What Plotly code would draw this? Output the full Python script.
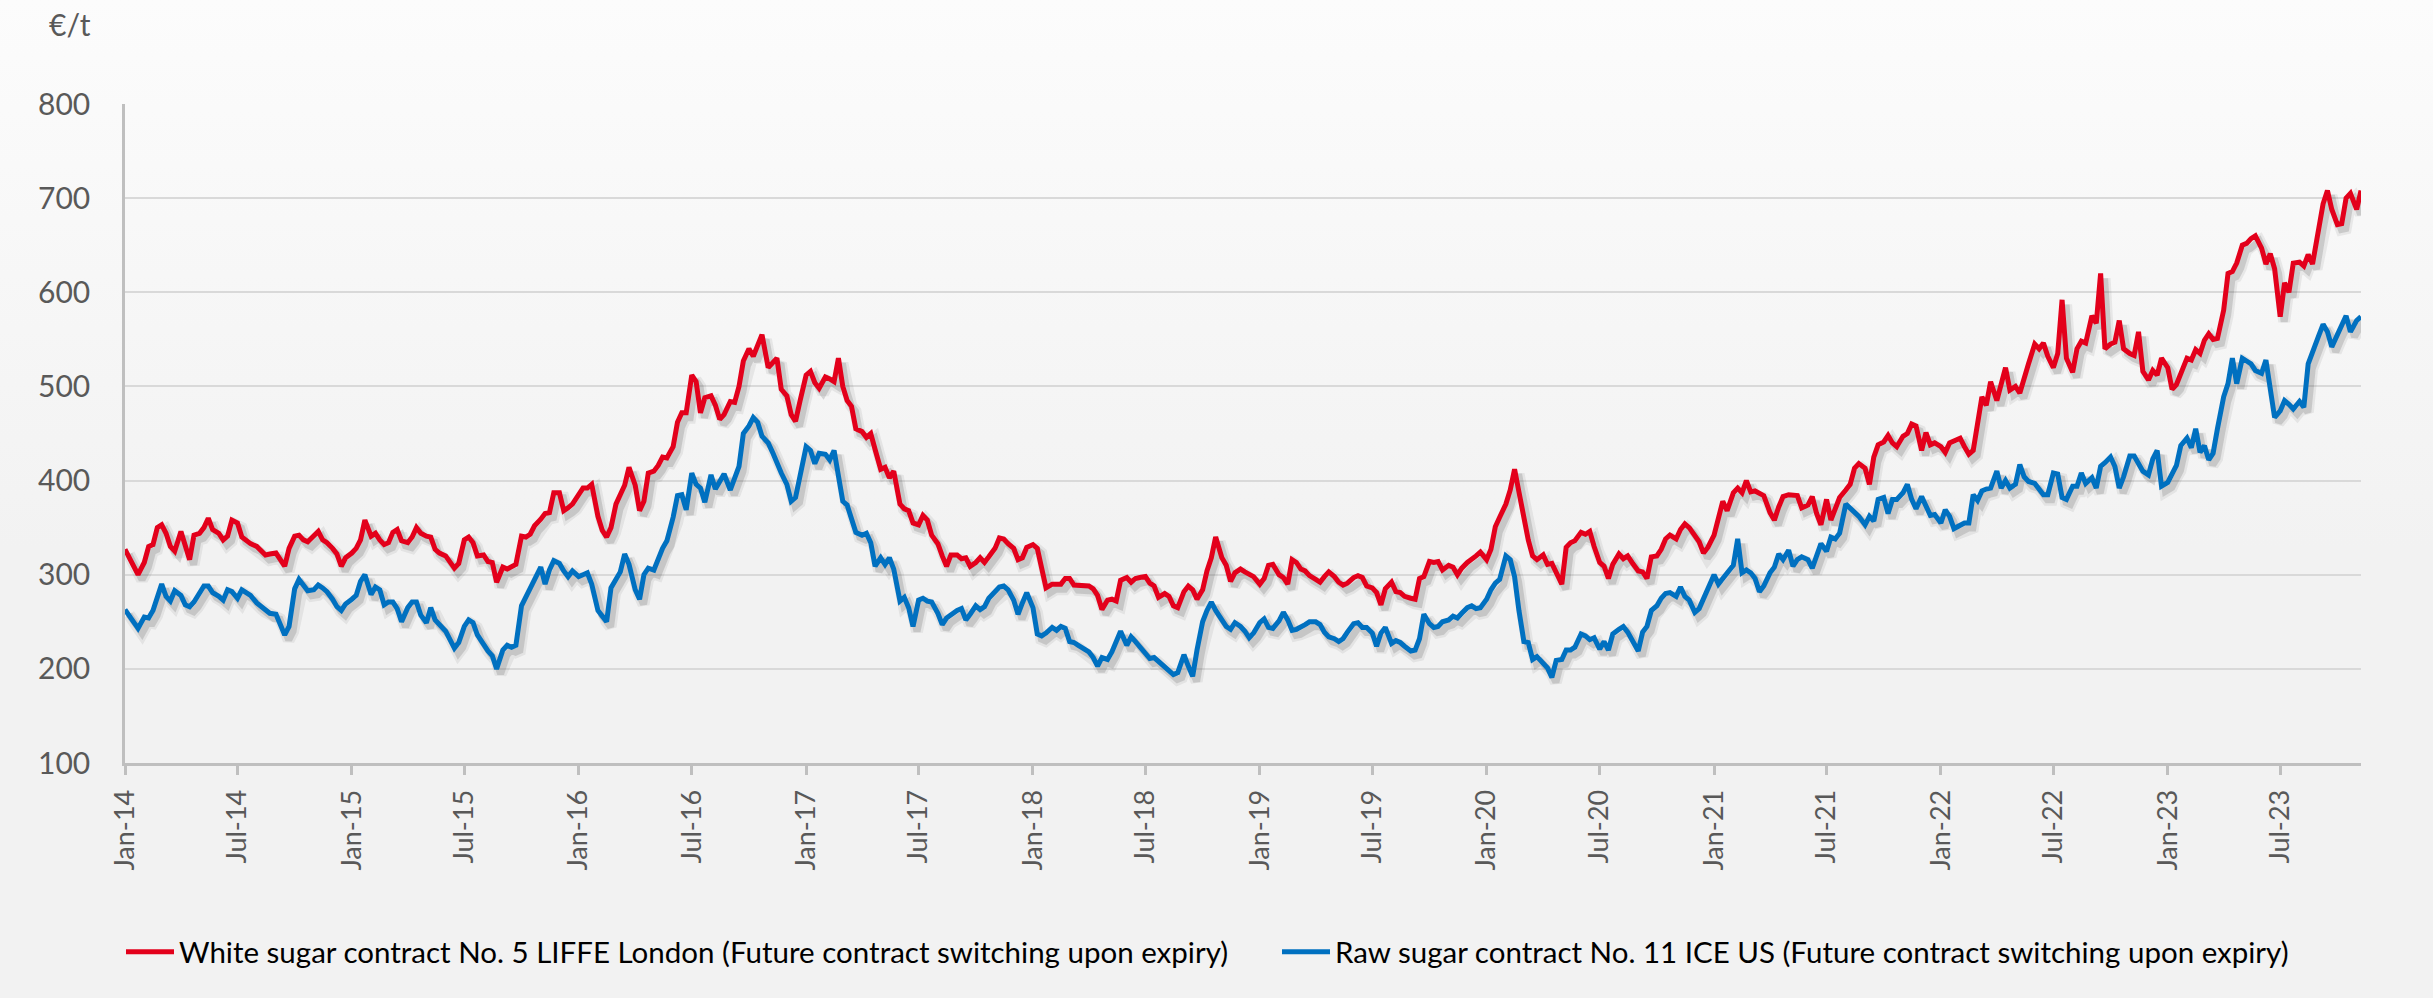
import base64
import pandas as pd
import plotly.graph_objects as go

# Quotes on the 1st, 8th, 15th and 22nd of every month, last one on 8 Nov 2023
months = pd.date_range("2014-01-01", "2023-10-01", freq="MS")
dates = [m + pd.Timedelta(days=d) for m in months for d in (0, 7, 14, 21)]
dates += [pd.Timestamp("2023-11-01"), pd.Timestamp("2023-11-08")]

# White sugar No. 5 LIFFE London, EUR per tonne (4 quotes per month)
white_sugar = [
    # 2014
    327, 318, 311, 300, 313, 330, 332, 350, 353, 344, 330, 325,
    346, 330, 316, 342, 344, 350, 360, 348, 344, 337, 341, 358,
    355, 340, 336, 333, 330, 325, 321, 322, 323, 316, 309, 328,
    341, 342, 337, 335, 341, 346, 337, 334, 328, 322, 309, 318,
    # 2015
    323, 328, 337, 358, 341, 344, 337, 332, 334, 345, 348, 336,
    334, 340, 350, 344, 341, 340, 327, 323, 320, 313, 307, 312,
    337, 340, 334, 320, 321, 314, 313, 292, 308, 306, 309, 311,
    341, 340, 343, 352, 359, 365, 366, 387, 387, 368, 371, 375,
    # 2016
    385, 392, 392, 396, 362, 347, 340, 350, 375, 386, 395, 414,
    395, 368, 378, 408, 410, 416, 425, 424, 436, 462, 472, 472,
    512, 505, 472, 488, 490, 480, 465, 470, 484, 483, 500, 527,
    540, 532, 542, 555, 520, 525, 530, 497, 490, 470, 463, 484,
    # 2017
    512, 516, 504, 498, 510, 508, 505, 530, 500, 485, 479, 455,
    452, 446, 450, 433, 412, 414, 403, 410, 375, 370, 368, 355,
    353, 363, 358, 342, 333, 320, 309, 321, 321, 317, 318, 309,
    313, 318, 313, 319, 328, 339, 338, 333, 328, 316, 318, 329,
    # 2018
    332, 328, 305, 286, 290, 290, 290, 296, 296, 289, 289, 288,
    288, 285, 278, 263, 273, 274, 272, 294, 297, 292, 296, 297,
    298, 291, 288, 276, 280, 277, 267, 265, 282, 288, 284, 274,
    284, 304, 318, 340, 318, 310, 293, 302, 306, 303, 300, 298,
    # 2019
    290, 296, 310, 311, 300, 297, 290, 316, 313, 306, 304, 299,
    295, 292, 298, 303, 298, 292, 289, 291, 297, 299, 297, 288,
    286, 281, 268, 285, 292, 282, 281, 277, 275, 274, 296, 298,
    314, 313, 314, 305, 310, 308, 300, 307, 313, 316, 320, 324,
    # 2020
    316, 327, 351, 361, 375, 390, 412, 388, 358, 337, 320, 316,
    321, 311, 312, 302, 290, 329, 334, 336, 345, 343, 346, 330,
    313, 309, 296, 311, 322, 317, 320, 313, 304, 303, 296, 319,
    320, 327, 338, 342, 338, 348, 354, 350, 341, 335, 323, 329,
    # 2021
    342, 360, 378, 368, 387, 392, 387, 400, 388, 389, 387, 384,
    366, 358, 372, 383, 385, 385, 384, 371, 374, 383, 365, 353,
    380, 358, 370, 382, 390, 396, 413, 418, 413, 396, 425, 438,
    441, 448, 440, 436, 447, 450, 460, 458, 432, 451, 438, 440,
    # 2022
    436, 430, 440, 442, 445, 436, 428, 432, 465, 489, 480, 505,
    485, 502, 520, 496, 500, 493, 510, 524, 545, 540, 546, 532,
    520, 535, 592, 530, 515, 540, 548, 546, 575, 567, 620, 540,
    545, 547, 570, 540, 535, 533, 558, 516, 507, 517, 512, 530,
    # 2023
    520, 497, 502, 515, 530, 528, 539, 535, 549, 556, 550, 551,
    581, 620, 622, 631, 650, 652, 657, 660, 647, 630, 641, 625,
    574, 610, 600, 631, 632, 628, 640, 630, 670, 694, 708, 688,
    672, 673, 700, 705, 688, 708,
]

# Raw sugar No. 11 ICE US, EUR per tonne (4 quotes per month)
raw_sugar = [
    # 2014
    263, 257, 250, 243, 255, 254, 262, 277, 290, 277, 272, 283,
    278, 268, 266, 271, 281, 288, 288, 281, 277, 273, 284, 282,
    275, 284, 281, 278, 270, 266, 263, 259, 258, 248, 236, 245,
    285, 295, 288, 283, 284, 289, 286, 282, 274, 266, 262, 269,
    # 2015
    274, 278, 293, 300, 279, 287, 284, 268, 271, 271, 264, 250,
    265, 271, 271, 257, 249, 265, 252, 247, 240, 231, 222, 228,
    245, 252, 249, 236, 225, 219, 214, 200, 220, 225, 223, 225,
    267, 276, 285, 295, 308, 290, 305, 315, 312, 304, 298, 304,
    # 2016
    298, 300, 302, 290, 262, 256, 250, 286, 295, 303, 322, 311,
    284, 274, 300, 307, 305, 318, 328, 336, 361, 384, 385, 369,
    408, 396, 392, 377, 406, 391, 400, 407, 390, 401, 415, 450,
    458, 467, 462, 447, 440, 430, 418, 408, 396, 378, 382, 407,
    # 2017
    436, 432, 418, 429, 428, 422, 432, 405, 378, 374, 357, 345,
    342, 344, 334, 309, 318, 311, 318, 306, 272, 276, 265, 245,
    273, 275, 272, 271, 259, 247, 254, 258, 262, 264, 252, 258,
    267, 263, 266, 275, 282, 287, 288, 284, 273, 258, 270, 281,
    # 2018
    265, 237, 235, 238, 244, 241, 245, 243, 229, 228, 225, 222,
    218, 212, 203, 212, 210, 218, 230, 240, 225, 234, 229, 223,
    216, 211, 212, 208, 203, 199, 194, 196, 215, 203, 192, 220,
    250, 262, 271, 262, 252, 245, 242, 249, 245, 240, 233, 238,
    # 2019
    249, 253, 244, 243, 251, 260, 252, 241, 242, 244, 247, 250,
    250, 247, 239, 234, 232, 229, 232, 239, 248, 249, 244, 244,
    238, 224, 238, 244, 227, 230, 228, 224, 219, 220, 232, 258,
    248, 244, 245, 250, 252, 256, 254, 259, 265, 267, 264, 265,
    # 2020
    274, 284, 291, 295, 320, 316, 298, 262, 229, 228, 210, 213,
    206, 201, 191, 209, 210, 220, 220, 223, 237, 235, 231, 233,
    221, 229, 220, 237, 242, 245, 239, 230, 219, 239, 245, 262,
    267, 275, 280, 281, 277, 287, 277, 273, 260, 264, 274, 283,
    # 2021
    300, 290, 296, 303, 310, 338, 302, 305, 302, 296, 282, 288,
    302, 308, 322, 316, 326, 309, 316, 319, 316, 307, 319, 333,
    325, 340, 338, 344, 375, 371, 367, 362, 353, 362, 357, 380,
    382, 365, 380, 380, 387, 396, 380, 370, 383, 374, 363, 364,
    # 2022
    355, 369, 362, 349, 353, 355, 355, 385, 379, 389, 391, 392,
    410, 392, 400, 392, 396, 417, 404, 399, 397, 391, 385, 385,
    408, 407, 382, 380, 394, 394, 408, 397, 403, 392, 415, 419,
    425, 415, 392, 404, 426, 426, 418, 410, 406, 423, 432, 394,
    # 2023
    398, 408, 416, 437, 445, 435, 455, 430, 437, 422, 429, 455,
    489, 503, 530, 503, 530, 527, 524, 517, 514, 528, 500, 467,
    474, 485, 481, 476, 484, 478, 524, 535, 554, 566, 558, 542,
    556, 567, 575, 558, 570, 574,
]

assert len(white_sugar) == len(dates) == len(raw_sugar)

series_names = [
    "White sugar contract No. 5 LIFFE London (Future contract switching upon expiry)",
    "Raw sugar contract No. 11 ICE US (Future contract switching upon expiry)",
]
series_colors = ["#E3001B", "#0070C0"]

tick_dates = [f"{y}-{m:02d}-01" for y in range(2014, 2024) for m in (1, 7)]
tick_text = [f"{'Jan' if m == 1 else 'Jul'}-{y % 100:02d}" for y in range(2014, 2024) for m in (1, 7)]

x_start, x_end = pd.Timestamp("2014-01-01"), pd.Timestamp("2023-11-08")
y_min, y_max = 100, 800

W, H = 2433, 998
M_L, M_R, M_T, M_B = 125, 72, 104, 235
plot_w = W - M_L - M_R
plot_h = H - M_T - M_B

# Drop shadow: the same data drawn on a helper axis pair whose ranges are
# nudged so the copy lands a few pixels right of and below the visible lines.
shadow_dx_px, shadow_dy_px = 4, 5
days_span = (x_end - x_start).days
dx_days = pd.Timedelta(days=shadow_dx_px * days_span / plot_w)
dy_val = shadow_dy_px * (y_max - y_min) / plot_h

fig = go.Figure()

for vals in (white_sugar, raw_sugar):
    for width, alpha in ((12, 0.08), (7, 0.16)):
        fig.add_trace(go.Scatter(
            x=dates, y=vals, mode="lines", xaxis="x", yaxis="y",
            line=dict(color=f"rgba(50,50,50,{alpha})", width=width),
            hoverinfo="skip", showlegend=False,
        ))

for vals, name, color in zip((white_sugar, raw_sugar), series_names, series_colors):
    fig.add_trace(go.Scatter(
        x=dates, y=vals, mode="lines", name=name, xaxis="x2", yaxis="y2",
        line=dict(color=color, width=5),
    ))

# soft vertical background gradient
svg = (
    f'<svg xmlns="http://www.w3.org/2000/svg" width="{W}" height="{H}">'
    '<defs><linearGradient id="g" x1="0" y1="0" x2="0" y2="1">'
    '<stop offset="0" stop-color="#fcfcfc"/>'
    '<stop offset="0.55" stop-color="#f2f2f2"/>'
    '<stop offset="1" stop-color="#f2f2f2"/>'
    '</linearGradient></defs>'
    f'<rect width="{W}" height="{H}" fill="url(#g)"/></svg>'
)
bg_src = "data:image/svg+xml;base64," + base64.b64encode(svg.encode()).decode()

font_family = "Lato, 'Open Sans', sans-serif"
legend_y_px = 952

fig.update_layout(
    width=W, height=H,
    margin=dict(l=M_L, r=M_R, t=M_T, b=M_B, pad=0),
    paper_bgcolor="#f2f2f2",
    plot_bgcolor="rgba(0,0,0,0)",
    font=dict(family=font_family, size=30, color="#595959"),
    images=[dict(
        source=bg_src, xref="paper", yref="paper",
        x=-M_L / plot_w, y=1 + M_T / plot_h,
        sizex=W / plot_w, sizey=H / plot_h,
        sizing="stretch", xanchor="left", yanchor="top", layer="below",
    )],
    xaxis=dict(
        type="date", range=[x_start - dx_days, x_end - dx_days],
        visible=False, fixedrange=True,
    ),
    yaxis=dict(
        range=[y_min + dy_val, y_max + dy_val],
        visible=False, fixedrange=True,
    ),
    xaxis2=dict(
        type="date", overlaying="x", anchor="y2",
        range=[x_start, x_end],
        tickmode="array", tickvals=tick_dates, ticktext=tick_text,
        tickangle=-90, ticks="outside", ticklen=9, tickwidth=2.5, tickcolor="#bfbfbf",
        ticklabelstandoff=4,
        tickfont=dict(family=font_family, size=27, color="#595959"),
        showgrid=False, zeroline=False,
        showline=True, linecolor="#bfbfbf", linewidth=3,
    ),
    yaxis2=dict(
        overlaying="y", anchor="x2",
        range=[y_min, y_max], tickmode="linear", tick0=100, dtick=100,
        ticks="", ticklabelstandoff=26,
        tickfont=dict(family=font_family, size=30, color="#595959"),
        showgrid=True, gridcolor="#d9d9d9", gridwidth=1.5,
        zeroline=False,
        showline=True, linecolor="#bfbfbf", linewidth=2.5,
    ),
    legend=dict(
        orientation="h", x=-0.001, xanchor="left",
        y=-(legend_y_px - (H - M_B)) / plot_h, yanchor="middle",
        font=dict(family=font_family, size=29.5, color="#000000"),
        bgcolor="rgba(0,0,0,0)", itemwidth=48,
        entrywidth=1093, entrywidthmode="pixels",
        traceorder="normal",
    ),
    annotations=[dict(
        text="€/t", xref="paper", yref="paper",
        x=(70 - M_L) / plot_w, y=1 + (M_T - 24) / plot_h,
        xanchor="center", yanchor="middle", showarrow=False,
        font=dict(family=font_family, size=30, color="#595959"),
    )],
    showlegend=True,
)

fig.write_html("out.html")
